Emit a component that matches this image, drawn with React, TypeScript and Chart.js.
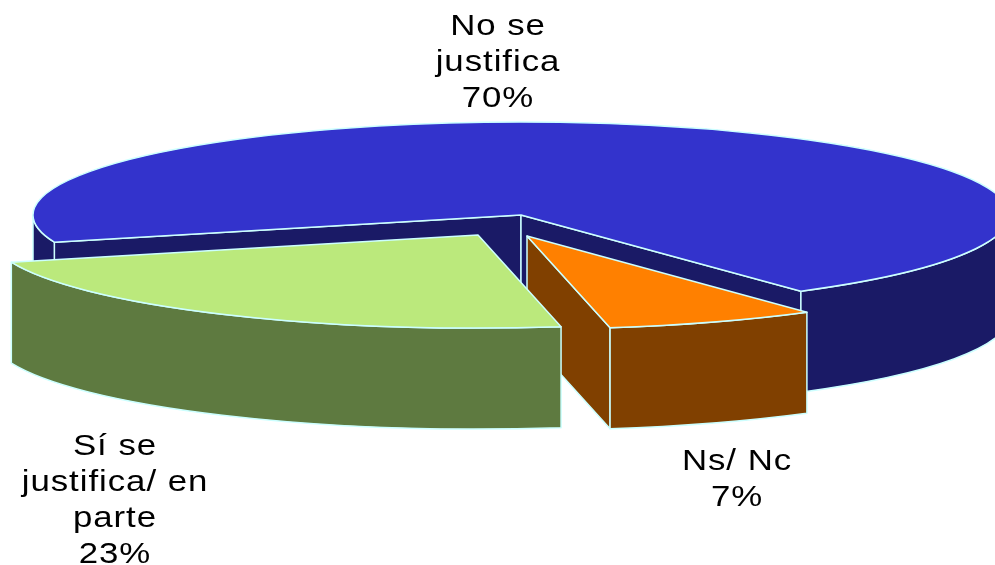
import React, { useEffect, useRef } from "react";
import { Chart, registerables } from "chart.js";

Chart.register(...registerables);

const categories = ["No se justifica", "Ns/ Nc", "Sí se justifica/ en parte"];
const values = [70, 7, 23];
const labelLines = [["No se", "justifica"], ["Ns/ Nc"], ["Sí se", "justifica/ en", "parte"]];
const topColors = ["#3333CC", "#FF8000", "#BBE97C"];
const sideColors = ["#1A1A66", "#804000", "#5E7A40"];

const CX = 521, CY = 215, RX = 488, RY = 93, DEPTH = 101;
const EDGE = "#CCFFFF";
const explode = [[0, 0], [6, 21], [-43, 20]];
const labelPos = [[498, 35], [737, 470], [115, 455]];
const LINE_H = 36;
const TEXT_STRETCH = 1.2;
const TAU = Math.PI * 2;

function quad(ctx: CanvasRenderingContext2D, c: number[], x: number, y: number, fill: string) {
  ctx.beginPath();
  ctx.moveTo(c[0], c[1]);
  ctx.lineTo(x, y);
  ctx.lineTo(x, y + DEPTH);
  ctx.lineTo(c[0], c[1] + DEPTH);
  ctx.closePath();
  ctx.fillStyle = fill;
  ctx.fill();
  ctx.stroke();
}

function rim(ctx: CanvasRenderingContext2D, c: number[], a: number, b: number, fill: string) {
  ctx.beginPath();
  ctx.ellipse(c[0], c[1], RX, RY, 0, a, b, false);
  ctx.ellipse(c[0], c[1] + DEPTH, RX, RY, 0, b, a, true);
  ctx.closePath();
  ctx.fillStyle = fill;
  ctx.fill();
  ctx.stroke();
}

const pie3d = {
  id: "pie3d",
  beforeDatasetsDraw(chart: any) {
    const ctx: CanvasRenderingContext2D = chart.ctx;
    const arcs = chart.getDatasetMeta(0).data;
    ctx.save();
    ctx.lineWidth = 1.5;
    ctx.strokeStyle = EDGE;
    ctx.lineJoin = "round";
    arcs.forEach((arc: any, i: number) => {
      const a0 = arc.startAngle, a1 = arc.endAngle;
      const c = [CX + explode[i][0], CY + explode[i][1]];
      const side = sideColors[i];
      const px = (t: number) => c[0] + RX * Math.cos(t);
      const py = (t: number) => c[1] + RY * Math.sin(t);
      if (Math.cos(a0) < 0) quad(ctx, c, px(a0), py(a0), side);
      if (Math.cos(a1) > 0) quad(ctx, c, px(a1), py(a1), side);
      for (let k = -1; k < 3; k++) {
        const lo = Math.max(a0, k * TAU), hi = Math.min(a1, k * TAU + Math.PI);
        if (hi > lo) rim(ctx, c, lo, hi, side);
      }
      // top face: the library's own arc, squashed into the ellipse
      ctx.save();
      ctx.translate(c[0], c[1]);
      ctx.scale(RX / arc.outerRadius, RY / arc.outerRadius);
      ctx.translate(-arc.x, -arc.y);
      arc.draw(ctx);
      ctx.restore();
      ctx.beginPath();
      ctx.moveTo(c[0], c[1]);
      ctx.ellipse(c[0], c[1], RX, RY, 0, a0, a1, false);
      ctx.closePath();
      ctx.stroke();
    });
    ctx.fillStyle = "#000";
    ctx.font = '29px "Liberation Sans", Arial, sans-serif';
    (ctx as any).letterSpacing = "0.8px";
    ctx.textAlign = "center";
    ctx.textBaseline = "alphabetic";
    labelLines.forEach((lines, i) => {
      [...lines, `${values[i]}%`].forEach((t, j) => {
        ctx.save();
        ctx.translate(labelPos[i][0], labelPos[i][1] + j * LINE_H);
        ctx.scale(TEXT_STRETCH, 1);
        ctx.fillText(t, 0, 0);
        ctx.restore();
      });
    });
    ctx.restore();
    return false;
  },
};

export default function App() {
  const ref = useRef<HTMLCanvasElement>(null);
  useEffect(() => {
    document.body.style.margin = "0";
    document.body.style.background = "#fff";
    const chart = new Chart(ref.current!, {
      type: "pie",
      data: {
        labels: categories,
        datasets: [{ data: values, backgroundColor: topColors, borderWidth: 0 }],
      },
      options: {
        responsive: false,
        animation: false,
        rotation: 253,
        plugins: { legend: { display: false }, tooltip: { enabled: false } },
      },
      plugins: [pie3d],
    } as any);
    return () => chart.destroy();
  }, []);
  return <canvas ref={ref} width={995} height={565} style={{ display: "block" }} />;
}
